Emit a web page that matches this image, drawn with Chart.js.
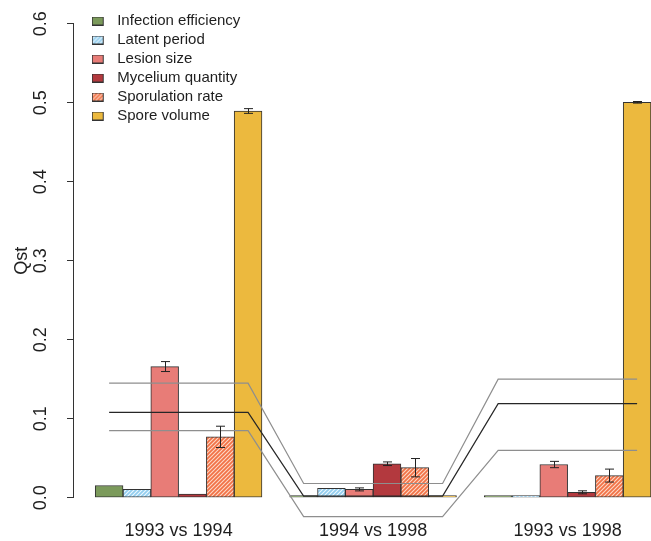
<!DOCTYPE html>
<html>
<head>
<meta charset="utf-8">
<script src="https://cdn.jsdelivr.net/npm/chart.js@4/dist/chart.umd.min.js"></script>
<style>
  html, body { margin: 0; padding: 0; background: #ffffff; overflow: hidden; }
  canvas { display: block; }
</style>
</head>
<body>
<canvas id="qst" width="651" height="541"></canvas>
<script>
// Pairwise comparisons (one bar group each)
const groups = ['1993 vs 1994', '1994 vs 1998', '1993 vs 1998'];

// Qst per trait, one value per comparison
const infectionEfficiency = [0.0155, 0.002, 0.001];
const latentPeriod        = [0.0105, 0.0118, 0.001];
const lesionSize          = [0.166, 0.0105, 0.042];
const myceliumQuantity    = [0.0047, 0.043, 0.0068];
const sporulationRate     = [0.077, 0.038, 0.028];
const sporeVolume         = [0.4895, 0.002, 0.5005];

// Standard errors (0 = none drawn)
const infectionEfficiencyErr = [0, 0, 0];
const latentPeriodErr        = [0, 0, 0];
const lesionSizeErr          = [0.0063, 0.0019, 0.004];
const myceliumQuantityErr    = [0, 0.0023, 0.0019];
const sporulationRateErr     = [0.0135, 0.0116, 0.0082];
const sporeVolumeErr         = [0.003, 0, 0.001];

// Neutral Fst reference: upper bound, mean, lower bound
const fstUpper = [0.145, 0.018, 0.150];
const fstMean  = [0.108, 0.002, 0.119];
const fstLower = [0.085, -0.024, 0.060];

const yTicks = [0, 0.1, 0.2, 0.3, 0.4, 0.5, 0.6];

const traitNames = ['Infection efficiency', 'Latent period', 'Lesion size',
                    'Mycelium quantity', 'Sporulation rate', 'Spore volume'];
const traitValues = [infectionEfficiency, latentPeriod, lesionSize,
                     myceliumQuantity, sporulationRate, sporeVolume];
const traitErrors = [infectionEfficiencyErr, latentPeriodErr, lesionSizeErr,
                     myceliumQuantityErr, sporulationRateErr, sporeVolumeErr];

// Layout on the x axis: each group holds one slot per trait plus one empty slot
const SLOTS_PER_GROUP = traitNames.length + 1;
const slotX = (g, k) => g * SLOTS_PER_GROUP + 1.5 + k;
const groupCenter = g => g * SLOTS_PER_GROUP + 1 + traitNames.length / 2;

const FONT = '"Liberation Sans", Arial, Helvetica, sans-serif';
const TEXT = '#1e1e1e';
const EDGE = '#333333';

function hatch(base, stripe, size, width) {
  const c = document.createElement('canvas');
  c.width = size; c.height = size;
  const g = c.getContext('2d');
  g.fillStyle = base;
  g.fillRect(0, 0, size, size);
  g.strokeStyle = stripe;
  g.lineWidth = width;
  g.beginPath();
  g.moveTo(-1, size + 1); g.lineTo(size + 1, -1);
  g.moveTo(-1, 1); g.lineTo(1, -1);
  g.moveTo(size - 1, size + 1); g.lineTo(size + 1, size - 1);
  g.stroke();
  return g.createPattern(c, 'repeat');
}

const traitFills = [
  '#7b9a5b',
  hatch('#92cdee', '#eef8fd', 4, 1.1),
  '#e87c77',
  '#b3393e',
  hatch('#f27246', '#fcd9c8', 4, 1.1),
  '#ecb93e'
];

function swatch(fill) {
  const c = document.createElement('canvas');
  c.width = 18; c.height = 9;
  const g = c.getContext('2d');
  g.fillStyle = fill;
  g.fillRect(0.5, 0.5, 11, 8);
  g.strokeStyle = EDGE;
  g.lineWidth = 1;
  g.strokeRect(0.5, 0.5, 11, 8);
  return c;
}

const barSets = traitNames.map((name, k) => ({
  type: 'bar',
  label: name,
  data: traitValues[k].map((v, g) => ({ x: slotX(g, k), y: v })),
  errors: traitErrors[k],
  backgroundColor: traitFills[k],
  borderColor: EDGE,
  borderWidth: 1,
  borderSkipped: false,
  grouped: false,
  barPercentage: 1,
  categoryPercentage: 1,
  minBarLength: 2,
  order: 1
}));

function fstLine(label, values, color) {
  return {
    type: 'line',
    label: label,
    data: groups.flatMap((_, g) => [
      { x: slotX(g, 0), y: values[g] },
      { x: slotX(g, traitNames.length - 1), y: values[g] }
    ]),
    borderColor: color,
    borderWidth: 1.2,
    pointRadius: 0,
    tension: 0,
    fill: false,
    clip: false,
    order: 0
  };
}

const lineSets = [
  fstLine('Fst upper', fstUpper, '#8e8e8e'),
  fstLine('Fst', fstMean, '#262626'),
  fstLine('Fst lower', fstLower, '#8e8e8e')
];

// Whiskers for the standard errors
const errorBars = {
  id: 'errorBars',
  afterDatasetsDraw(chart) {
    const { ctx } = chart;
    const y = chart.scales.y;
    chart.data.datasets.forEach((ds, i) => {
      if (!ds.errors) return;
      chart.getDatasetMeta(i).data.forEach((bar, j) => {
        const e = ds.errors[j];
        if (!e) return;
        const v = ds.data[j].y;
        const top = y.getPixelForValue(v + e);
        const bot = y.getPixelForValue(v - e);
        const cx = Math.round(bar.x) + 0.5;
        const w = 4.5;
        ctx.save();
        ctx.strokeStyle = '#222222';
        ctx.lineWidth = 1;
        ctx.beginPath();
        ctx.moveTo(cx, top); ctx.lineTo(cx, bot);
        ctx.moveTo(cx - w, top); ctx.lineTo(cx + w, top);
        ctx.moveTo(cx - w, bot); ctx.lineTo(cx + w, bot);
        ctx.stroke();
        ctx.restore();
      });
    });
  }
};

// Legend sits inside the plot, top-left
const legendPlacement = {
  id: 'legendPlacement',
  afterLayout(chart) {
    const lg = chart.legend;
    if (lg) { lg.left = 87.7; lg.top = 9.5; }
  }
};

new Chart(document.getElementById('qst'), {
  type: 'bar',
  data: { datasets: [...barSets, ...lineSets] },
  plugins: [errorBars, legendPlacement],
  options: {
    responsive: false,
    animation: false,
    devicePixelRatio: 1,
    layout: { padding: { top: 23.7, left: 0, right: 0, bottom: 0 } },
    plugins: {
      tooltip: { enabled: false },
      legend: {
        position: 'chartArea',
        align: 'start',
        labels: {
          usePointStyle: true,
          pointStyleWidth: 18,
          boxHeight: 9,
          padding: 4,
          color: TEXT,
          font: { family: FONT, size: 15 },
          generateLabels(chart) {
            const items = Chart.defaults.plugins.legend.labels.generateLabels(chart);
            return items
              .filter(it => chart.data.datasets[it.datasetIndex].type === 'bar')
              .map(it => { it.pointStyle = swatch(traitFills[it.datasetIndex]); return it; });
          }
        }
      }
    },
    scales: {
      x: {
        type: 'linear',
        min: 0.2,
        max: 21,
        offset: false,
        grid: { display: false, drawTicks: false },
        border: { display: false },
        afterBuildTicks: s => { s.ticks = groups.map((_, g) => ({ value: groupCenter(g) })); },
        ticks: {
          callback: (v, i) => groups[i],
          autoSkip: false,
          maxRotation: 0,
          padding: 23,
          color: TEXT,
          font: { family: FONT, size: 18 }
        },
        afterFit: s => { s.height = 43.3; s.paddingLeft = 0; s.paddingRight = 0; }
      },
      y: {
        type: 'linear',
        min: 0,
        max: 0.6,
        afterBuildTicks: s => { s.ticks = yTicks.map(v => ({ value: v })); },
        ticks: {
          callback: v => v.toFixed(1),
          autoSkip: false,
          minRotation: 90,
          maxRotation: 90,
          crossAlign: 'center',
          padding: 13,
          color: TEXT,
          font: { family: FONT, size: 18 }
        },
        grid: { drawOnChartArea: false, drawTicks: true, tickLength: 6, color: EDGE },
        border: { display: true, color: EDGE, width: 1 },
        title: {
          display: true,
          text: 'Qst',
          color: TEXT,
          font: { family: FONT, size: 18 },
          padding: { top: 11, bottom: 0 }
        },
        afterFit: s => { s.width = 73; s.paddingTop = 0; s.paddingBottom = 0; }
      }
    }
  }
});
</script>
</body>
</html>
